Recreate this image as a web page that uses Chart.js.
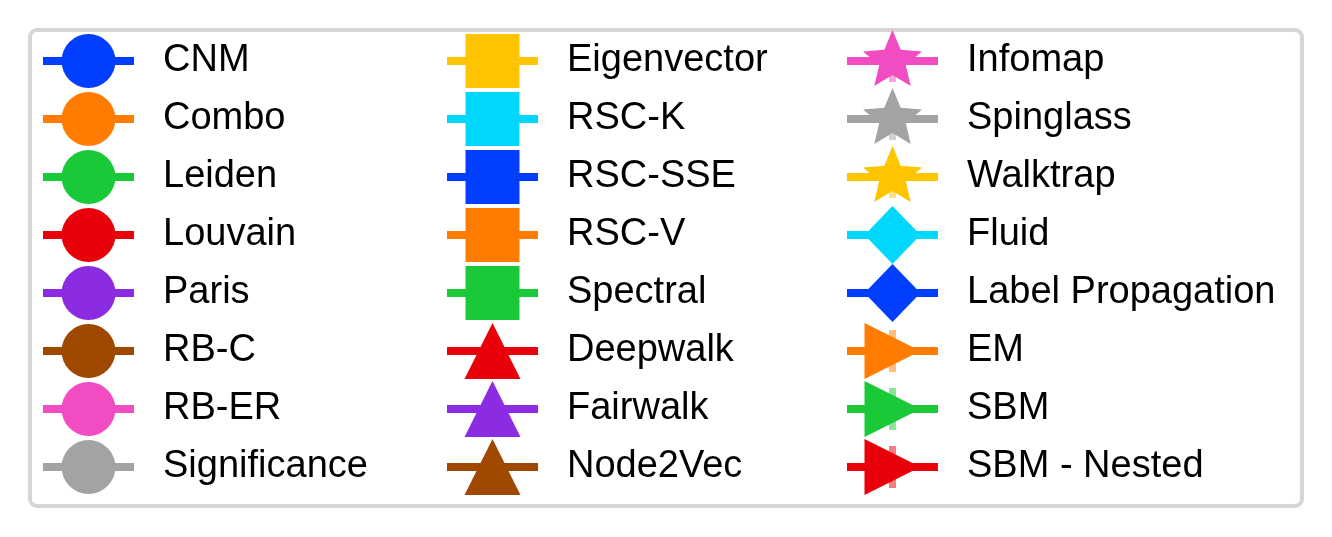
<!DOCTYPE html>
<html>
<head>
<meta charset="utf-8">
<script src="https://cdn.jsdelivr.net/npm/chart.js@4.4.1/dist/chart.umd.min.js"></script>
<style>
html, body { margin: 0; padding: 0; background: #ffffff; overflow: hidden; width: 1332px; height: 537px; }
#frame { position: absolute; left: 28px; top: 28px; width: 1276px; height: 480px; box-sizing: border-box;
         border: 4px solid #d6d6d6; border-radius: 9px; background: #ffffff; }
canvas.col { position: absolute; }
</style>
</head>
<body>
<div id="frame"></div>
<canvas class="col" id="col1" width="1000" height="520"></canvas>
<canvas class="col" id="col2" width="1000" height="520"></canvas>
<canvas class="col" id="col3" width="1000" height="520"></canvas>
<script>
// ---- legend entries (grouped by marker family) ----
const circleMethods = ['CNM', 'Combo', 'Leiden', 'Louvain', 'Paris', 'RB-C', 'RB-ER', 'Significance'];
const squareMethods = ['Eigenvector', 'RSC-K', 'RSC-SSE', 'RSC-V', 'Spectral'];
const triangleMethods = ['Deepwalk', 'Fairwalk', 'Node2Vec'];
const starMethods = ['Infomap', 'Spinglass', 'Walktrap'];
const diamondMethods = ['Fluid', 'Label Propagation'];
const rightTriangleMethods = ['EM', 'SBM', 'SBM - Nested'];

// ---- styles ----
const palette = ['#023eff', '#ff7c00', '#1ac938', '#e8000b', '#8b2be2',
                 '#9f4800', '#f14cc1', '#a3a3a3', '#ffc400', '#00d7ff'];
const groups = [
  { shape: 'circle', names: circleMethods },
  { shape: 'square', names: squareMethods },
  { shape: 'triangleUp', names: triangleMethods },
  { shape: 'star', names: starMethods },
  { shape: 'diamond', names: diamondMethods },
  { shape: 'triangleRight', names: rightTriangleMethods }
];
const perColumn = 8;
const fontFamily = "'Liberation Sans', Arial, sans-serif";
const fontSize = 38;

// layout of the legend block
const columnCenters = [88.5, 492, 892.5];   // marker centres of the three columns
const firstRowCenter = 61;
const rowPitch = 58;
const textGap = 74.5;                        // marker centre -> text start
const pad = rowPitch - fontSize;
const boxW = 2 * textGap - fontSize;

const entries = [];
groups.forEach(g => g.names.forEach(n => entries.push({ label: n, shape: g.shape })));
entries.forEach((e, i) => { e.color = palette[i % palette.length]; });

function withAlpha(hex, a) {
  const r = parseInt(hex.slice(1, 3), 16), g = parseInt(hex.slice(3, 5), 16), b = parseInt(hex.slice(5, 7), 16);
  return 'rgba(' + r + ',' + g + ',' + b + ',' + a + ')';
}

// legend handle image: line + marker (matplotlib style)
function makeHandle(shape, color) {
  const c = document.createElement('canvas');
  c.width = 101; c.height = 66;
  const g = c.getContext('2d');
  const cx = 50.5, cy = 33;
  g.fillStyle = withAlpha(color, 0.5);
  g.fillRect(cx - 3.5, cy - 21, 7, 42);
  g.fillStyle = color;
  g.fillRect(cx - 45.5, cy - 4, 91, 8);
  g.beginPath();
  if (shape === 'circle') {
    g.arc(cx, cy, 27, 0, Math.PI * 2);
  } else if (shape === 'square') {
    g.rect(cx - 27, cy - 27, 54, 54);
  } else if (shape === 'triangleUp') {
    g.moveTo(cx, cy - 28); g.lineTo(cx + 28, cy + 28); g.lineTo(cx - 28, cy + 28); g.closePath();
  } else if (shape === 'triangleRight') {
    g.moveTo(cx + 28, cy); g.lineTo(cx - 28, cy + 28); g.lineTo(cx - 28, cy - 28); g.closePath();
  } else if (shape === 'diamond') {
    g.moveTo(cx, cy - 29); g.lineTo(cx + 28, cy); g.lineTo(cx, cy + 29); g.lineTo(cx - 28, cy); g.closePath();
  } else if (shape === 'star') {
    const R = 31, r = 14;
    for (let k = 0; k < 10; k++) {
      const a = -Math.PI / 2 + k * Math.PI / 5;
      const rr = (k % 2 === 0) ? R : r;
      const px = cx + rr * Math.cos(a), py = cy + rr * Math.sin(a);
      if (k === 0) g.moveTo(px, py); else g.lineTo(px, py);
    }
    g.closePath();
  }
  g.fill();
  return c;
}

const columns = [];
for (let i = 0; i < entries.length; i += perColumn) columns.push(entries.slice(i, i + perColumn));

columns.forEach((col, k) => {
  const cv = document.getElementById('col' + (k + 1));
  cv.style.left = Math.round(columnCenters[k] - boxW / 2 - pad) + 'px';
  cv.style.top = Math.round(firstRowCenter - pad - fontSize / 2) + 'px';
  new Chart(cv, {
    type: 'line',
    data: {
      labels: [],
      datasets: col.map(e => ({
        label: e.label,
        data: [],
        borderColor: e.color,
        backgroundColor: e.color,
        pointStyle: makeHandle(e.shape, e.color)
      }))
    },
    options: {
      responsive: false,
      animation: false,
      events: [],
      layout: { padding: 0 },
      scales: { x: { display: false }, y: { display: false } },
      plugins: {
        tooltip: { enabled: false },
        legend: {
          position: 'left',
          align: 'start',
          maxWidth: 1000,
          labels: {
            usePointStyle: true,
            pointStyleWidth: boxW,
            padding: pad,
            color: '#000000',
            font: { family: fontFamily, size: fontSize }
          }
        }
      }
    }
  });
});
</script>
</body>
</html>
